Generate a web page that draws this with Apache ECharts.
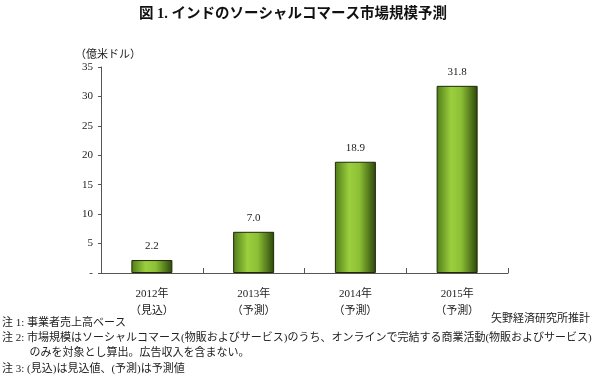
<!DOCTYPE html>
<html><head><meta charset="utf-8">
<script src="https://cdn.jsdelivr.net/npm/echarts@6/dist/echarts.min.js"></script>
<style>html,body{margin:0;padding:0;background:#fff}#c{width:600px;height:380px}</style>
</head><body><div id="c"></div>
<script>
const categories = ['2012年\n（見込）', '2013年\n（予測）', '2014年\n（予測）', '2015年\n（予測）'];
const values = [2.2, 7.0, 18.9, 31.8];
const yTicks = { min: 0, max: 35, interval: 5 };
const titleText = '図 1. インドのソーシャルコマース市場規模予測';
const unitText = '（億米ドル）';
const sourceText = '矢野経済研究所推計';
const notes = [
  '注 1: 事業者売上高ベース',
  '注 2: 市場規模はソーシャルコマース(物販およびサービス)のうち、オンラインで完結する商業活動(物販およびサービス)',
  '          のみを対象とし算出。広告収入を含まない。',
  '注 3: (見込)は見込値、(予測)は予測値'
];

const FONT = '"Liberation Serif", "Noto Sans CJK JP", serif';
const chart = echarts.init(document.getElementById('c'));
const barColor = new echarts.graphic.LinearGradient(0, 0, 1, 0, [
  { offset: 0, color: '#4f7c18' },
  { offset: 0.35, color: '#9ccf3e' },
  { offset: 0.6, color: '#8cbf34' },
  { offset: 1, color: '#2c460b' }
]);
const noteY = [325, 340, 355, 371];
chart.setOption({
  animation: false,
  backgroundColor: '#fff',
  textStyle: { fontFamily: FONT },
  title: {
    text: titleText, left: 134, top: 2,
    textStyle: { fontFamily: FONT, fontSize: 14.5, fontWeight: 'bold', color: '#111' }
  },
  grid: { left: 101, right: 92, top: 67, bottom: 107 },
  xAxis: {
    type: 'category', data: categories,
    axisLine: { lineStyle: { color: '#555', width: 1 } },
    axisTick: { show: true, inside: true, length: 5, lineStyle: { color: '#555' } },
    axisLabel: { color: '#222', fontSize: 11, lineHeight: 17, margin: 13, fontFamily: FONT }
  },
  yAxis: {
    type: 'value', min: yTicks.min, max: yTicks.max, interval: yTicks.interval,
    splitLine: { show: false },
    axisLine: { show: true, lineStyle: { color: '#555', width: 1 } },
    axisTick: { show: true, length: 3, lineStyle: { color: '#555' } },
    axisLabel: {
      color: '#222', fontSize: 11, margin: 8, fontFamily: FONT,
      formatter: v => v === 0 ? '-' : String(v)
    }
  },
  series: [{
    type: 'bar', data: values, barWidth: 41,
    itemStyle: { color: barColor, borderColor: '#1d2a08', borderWidth: 1 },
    label: {
      show: true, position: 'top', distance: 8, color: '#222', fontSize: 11, fontFamily: FONT,
      formatter: p => p.value.toFixed(1)
    }
  }],
  graphic: [
    { type: 'text', left: 75, top: 50, style: { text: unitText, fill: '#222', font: '11px ' + FONT } },
    { type: 'text', right: 10, top: 314, style: { text: sourceText, fill: '#222', font: '11px ' + FONT } }
  ].concat(notes.map((t, i) => ({
    type: 'text', left: 2, top: noteY[i] - 7, style: { text: t, fill: '#222', font: '11px ' + FONT }
  })))
});
</script></body></html>
